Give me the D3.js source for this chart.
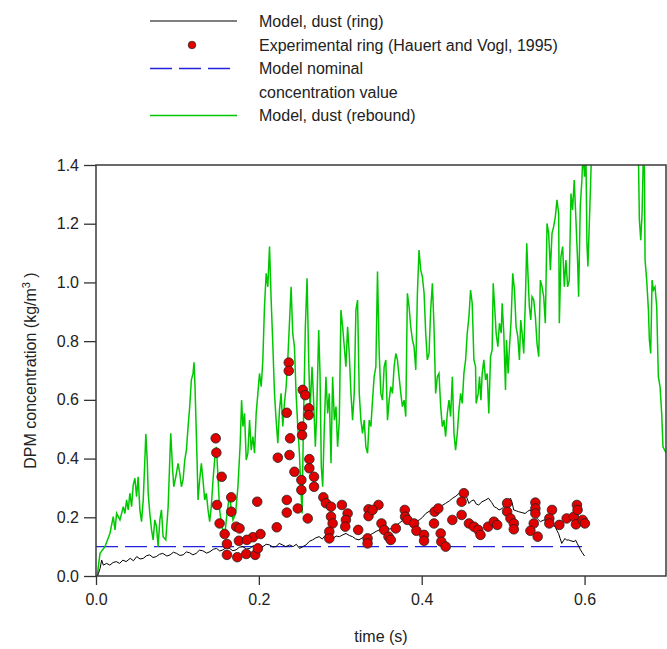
<!DOCTYPE html>
<html>
<head>
<meta charset="utf-8">
<script src="https://cdn.jsdelivr.net/npm/d3@7"></script>
<style>
  body { margin: 0; background: #fff; }
  svg { display: block; font-family: "Liberation Sans", Arial, sans-serif; }
</style>
</head>
<body>
<div id="chart"></div>
<script>
(function () {
    'use strict';

    // model, dust (rebound) - [time, concentration]
    var reboundData = [
        [0.0016,0.003],[0.0049,0.077],[0.011,0.1],[0.0171,0.145],[0.0212,0.202],[0.0233,0.157],[0.0253,0.213],
        [0.0294,0.191],[0.0335,0.236],[0.0355,0.213],[0.0376,0.259],[0.0396,0.225],[0.0416,0.282],[0.0437,0.236],
        [0.0457,0.31],[0.0478,0.333],[0.0498,0.27],[0.0518,0.338],[0.0539,0.225],[0.0559,0.185],[0.058,0.259],
        [0.06,0.395],[0.0612,0.484],[0.0629,0.395],[0.0641,0.282],[0.0661,0.213],[0.0682,0.157],[0.0702,0.123],
        [0.0722,0.191],[0.0743,0.168],[0.0763,0.1],[0.0784,0.191],[0.0804,0.225],[0.0824,0.134],[0.0857,0.123],
        [0.0886,0.236],[0.0906,0.395],[0.0918,0.486],[0.0939,0.372],[0.0955,0.304],[0.098,0.338],[0.1008,0.384],
        [0.1029,0.35],[0.1049,0.304],[0.1069,0.327],[0.109,0.395],[0.111,0.429],[0.1131,0.509],[0.1151,0.577],
        [0.1171,0.668],[0.1192,0.69],[0.1204,0.728],[0.1216,0.645],[0.1224,0.565],[0.1241,0.395],[0.1253,0.259],
        [0.1273,0.327],[0.1294,0.384],[0.1314,0.327],[0.1335,0.259],[0.1355,0.282],[0.1376,0.225],[0.1396,0.185],
        [0.1416,0.236],[0.1437,0.327],[0.1457,0.395],[0.1478,0.44],[0.1498,0.338],[0.1518,0.225],[0.1539,0.179],
        [0.1559,0.157],[0.158,0.134],[0.16,0.191],[0.1641,0.282],[0.1661,0.225],[0.1682,0.191],[0.1714,0.213],
        [0.1743,0.304],[0.1771,0.452],[0.1788,0.599],[0.1804,0.509],[0.1824,0.554],[0.1845,0.395],[0.1865,0.418],
        [0.1886,0.531],[0.1906,0.429],[0.1927,0.475],[0.1947,0.418],[0.1967,0.554],[0.1988,0.622],[0.2008,0.69],
        [0.2029,0.645],[0.2049,0.736],[0.2069,0.917],[0.209,1.031],[0.211,0.985],[0.2131,1.122],[0.2151,0.94],
        [0.2171,0.792],[0.2192,0.622],[0.2212,0.531],[0.2233,0.452],[0.2253,0.565],[0.2273,0.622],[0.2294,0.509],
        [0.2314,0.588],[0.2335,0.645],[0.2355,0.736],
        [0.2396,0.985],[0.2416,0.827],[0.2437,0.781],[0.2457,0.622],[0.2478,0.509],[0.2498,0.418],[0.2518,0.282],
        [0.2531,0.213],[0.2547,0.509],[0.2571,0.849],[0.2592,1.014],[0.2612,0.736],[0.2629,0.565],[0.2653,0.713],
        [0.2669,0.622],[0.2694,0.44],[0.271,0.554],[0.2735,0.838],[0.2751,0.69],[0.2767,0.372],[0.2784,0.304],
        [0.2804,0.509],[0.2824,0.679],[0.2845,0.554],[0.2865,0.622],[0.2886,0.384],[0.2906,0.679],[0.2927,0.531],
        [0.2947,0.577],[0.2967,0.44],[0.2988,0.531],[0.3008,0.906],[0.3029,0.849],[0.3049,0.781],[0.3069,0.713],
        [0.309,0.849],[0.311,0.758],[0.3131,0.622],[0.3151,0.531],[0.3171,0.622],[0.3192,0.906],[0.3212,0.94],
        [0.3233,0.622],[0.3253,0.531],[0.3273,0.486],[0.3294,0.531],[0.3314,0.44],[0.3335,0.418],[0.3355,0.531],
        [0.3376,0.509],[0.3396,0.599],[0.3416,0.679],[0.3437,0.713],[0.3457,1.037],[0.3478,0.758],[0.3498,0.622],
        [0.3518,0.599],[0.3539,0.713],[0.3559,0.736],[0.358,0.531],[0.36,0.599],[0.362,0.645],[0.3641,0.622],
        [0.3661,0.713],[0.3682,0.758],[0.3702,0.736],[0.3722,0.679],[0.3743,0.622],[0.3763,0.577],[0.3784,0.599],
        [0.3804,0.543],[0.3824,0.963],[0.3845,0.917],[0.3865,0.849],[0.3886,0.804],[0.3906,0.781],[0.3927,0.702],
        [0.3947,0.963],[0.3967,1.11],[0.3988,1.042],[0.4008,1.02],[0.4029,0.963],[0.4049,0.827],[0.4069,0.736],
        [0.409,0.758],[0.411,0.906],[0.4131,0.997],[0.4151,0.849],[0.4171,0.622],[0.4192,0.679],[0.4212,0.69],
        [0.4233,0.577],[0.4253,0.509],[0.4273,0.531],[0.4294,0.475],[0.4314,0.554],[0.4335,0.599],[0.4355,0.543],
        [0.4376,0.679],[0.4396,0.486],[0.4416,0.429],[0.4437,0.486],[0.4457,0.565],[0.4478,0.622],[0.4498,0.588],
        [0.4518,0.69],[0.4539,0.736],[0.4559,0.827],[0.458,0.883],[0.46,0.974],[0.462,0.929],[0.4641,0.736],
        [0.4661,0.713],
        [0.4669,0.588],[0.4694,0.622],[0.471,0.679],[0.4727,0.599],[0.4743,0.69],[0.4763,0.736],[0.4784,0.668],
        [0.4804,0.69],[0.4824,0.554],[0.4845,0.747],[0.4865,0.77],[0.4878,0.997],[0.4898,0.906],[0.4914,0.827],
        [0.4935,0.781],[0.4955,0.861],[0.4976,0.827],[0.4988,0.929],[0.5008,0.827],[0.5029,0.634],[0.5041,0.804],
        [0.5061,0.69],[0.5078,0.781],[0.5098,0.872],[0.5118,1.031],[0.5139,0.974],[0.5159,0.849],[0.518,0.815],
        [0.52,0.736],[0.5216,0.872],[0.5233,0.827],[0.5253,0.758],[0.5273,0.94],[0.529,1.133],[0.5306,1.02],
        [0.5322,0.917],[0.5339,0.872],[0.5355,0.951],[0.5376,0.94],[0.5396,0.883],[0.5416,0.792],[0.5437,0.747],
        [0.5457,1.008],[0.5478,0.985],[0.5498,0.951],[0.5518,0.861],[0.5539,1.201],[0.5559,1.167],[0.558,1.042],
        [0.56,1.167],[0.562,1.19],[0.5641,1.224],[0.5661,1.281],[0.5682,1.235],[0.569,0.861],[0.571,1.088],
        [0.5731,1.122],[0.5751,0.985],[0.5771,1.076],[0.5792,0.985],[0.5812,1.008],[0.5833,1.303],[0.5853,1.247],
        [0.5873,1.349],[0.5894,1.213],[0.5914,1.076],[0.5927,0.951],[0.5947,1.258],[0.5967,1.349],[0.598,1.44],
        [0.6,1.36],[0.6016,1.45],[0.6029,1.133],[0.6041,1.054],[0.6057,1.19],[0.6073,1.326],[0.609,1.49],
        [0.625,1.6],[0.64,1.7],[0.655,1.6],
        [0.6661,1.44],[0.6673,1.213],[0.669,1.144],[0.6706,1.235],[0.6722,1.44],[0.6735,1.383],[0.6743,1.076],
        [0.6763,1.008],[0.6784,0.906],[0.6796,0.804],[0.6812,0.758],[0.6829,1.008],[0.6845,0.974],[0.6865,0.985],
        [0.6886,0.917],[0.6906,0.679],[0.6927,0.645],[0.6947,0.554],[0.6963,0.44],[0.7,0.42]
    ];

    // model, dust (ring)
    var ringData = [
        [0.002,0.0],[0.003,0.009],[0.005,0.026],[0.007,0.054],[0.009,0.037],[0.013,0.043],[0.017,0.037],
        [0.021,0.046],[0.025,0.049],[0.029,0.043],[0.033,0.054],[0.037,0.049],[0.042,0.06],[0.046,0.052],
        [0.05,0.066],[0.054,0.058],[0.058,0.06],[0.062,0.069],[0.066,0.072],[0.07,0.063],[0.074,0.066],
        [0.078,0.074],[0.082,0.077],[0.087,0.068],[0.091,0.072],[0.095,0.081],[0.099,0.077],[0.103,0.07],
        [0.107,0.072],[0.111,0.082],[0.115,0.079],[0.119,0.072],[0.123,0.077],[0.127,0.088],[0.131,0.086],
        [0.136,0.078],[0.14,0.083],[0.144,0.091],[0.148,0.094],[0.152,0.085],[0.156,0.089],[0.16,0.097],
        [0.164,0.094],[0.168,0.086],[0.172,0.089],[0.176,0.098],[0.18,0.1],[0.185,0.092],[0.189,0.094],
        [0.193,0.103],[0.197,0.1],[0.201,0.094],[0.205,0.1],[0.209,0.108],[0.213,0.106],[0.217,0.099],
        [0.221,0.1],[0.225,0.111],[0.229,0.106],[0.233,0.1],[0.238,0.106],[0.242,0.1],[0.246,0.108],
        [0.25,0.094],[0.254,0.1],[0.258,0.106],[0.262,0.118],[0.266,0.123],[0.27,0.13],[0.274,0.134],
        [0.278,0.126],[0.282,0.14],[0.287,0.132],[0.291,0.128],[0.295,0.136],[0.299,0.134],[0.303,0.14],
        [0.307,0.145],[0.311,0.138],[0.315,0.134],[0.319,0.126],[0.323,0.123],[0.327,0.13],[0.331,0.128],
        [0.336,0.14],[0.34,0.145],[0.344,0.152],[0.348,0.157],[0.352,0.162],[0.356,0.168],[0.36,0.16],
        [0.364,0.162],[0.368,0.172],[0.372,0.179],[0.376,0.188],[0.38,0.196],[0.385,0.186],[0.389,0.179],
        [0.393,0.186],[0.397,0.191],[0.401,0.2],[0.405,0.213],[0.409,0.22],[0.413,0.225],[0.417,0.23],
        [0.421,0.236],[0.425,0.24],[0.429,0.247],[0.434,0.256],[0.438,0.265],[0.442,0.272],[0.446,0.282],
        [0.449,0.278],[0.452,0.287],[0.455,0.27],[0.458,0.247],[0.461,0.256],[0.464,0.259],[0.467,0.245],
        [0.47,0.242],[0.474,0.253],[0.478,0.258],[0.482,0.265],[0.486,0.25],[0.489,0.236],[0.492,0.232],
        [0.495,0.225],[0.499,0.23],[0.503,0.247],[0.506,0.256],[0.509,0.265],[0.511,0.25],[0.513,0.225],
        [0.516,0.222],[0.519,0.219],[0.523,0.216],[0.527,0.213],[0.53,0.22],[0.533,0.225],[0.537,0.21],
        [0.54,0.202],[0.543,0.192],[0.546,0.185],[0.549,0.19],[0.552,0.191],[0.555,0.182],[0.558,0.179],
        [0.561,0.172],[0.564,0.168],[0.566,0.155],[0.568,0.145],[0.57,0.128],[0.572,0.111],[0.574,0.12],
        [0.576,0.128],[0.578,0.122],[0.58,0.123],[0.583,0.12],[0.587,0.117],[0.589,0.122],[0.591,0.111],
        [0.593,0.1],[0.595,0.089],[0.597,0.08],[0.6,0.068]
    ];

    // experimental ring (Hauert and Vogl, 1995)
    var experimentData = [
        [0.147,0.469],[0.1478,0.42],[0.1543,0.338],[0.1661,0.268],[0.1486,0.242],[0.1661,0.219],[0.1518,0.179],
        [0.158,0.143],[0.1722,0.168],[0.1763,0.162],[0.198,0.253],[0.1755,0.12],[0.1927,0.132],[0.202,0.143],
        [0.222,0.166],[0.2233,0.403],[0.1608,0.109],[0.1608,0.072],[0.1735,0.064],[0.1853,0.123],[0.1845,0.075],
        [0.1955,0.072],[0.1988,0.094],
        [0.2367,0.727],[0.2367,0.699],[0.2343,0.556],[0.2384,0.469],[0.2376,0.412],[0.2343,0.259],[0.2343,0.216],
        [0.2437,0.355],[0.2478,0.23],[0.2539,0.634],[0.257,0.616],[0.2531,0.509],[0.2531,0.48],[0.2612,0.571],
        [0.2612,0.548],[0.262,0.398],[0.262,0.367],[0.2522,0.327],[0.2522,0.293],[0.2678,0.338],[0.2678,0.304],
        [0.26,0.196],[0.2792,0.268],[0.2824,0.248],[0.2886,0.236],[0.2886,0.202],[0.2906,0.179],[0.2865,0.151],
        [0.2865,0.128],[0.302,0.242],[0.309,0.213],[0.3069,0.191],[0.3061,0.168],[0.322,0.157],[0.3347,0.227],
        [0.3347,0.204],[0.3469,0.242],[0.3396,0.225],[0.3335,0.128],[0.3335,0.111],[0.3506,0.179],[0.3539,0.157],
        [0.3592,0.134],[0.362,0.123],[0.3682,0.162],[0.3792,0.225],[0.3796,0.202],[0.3824,0.191],[0.3906,0.179],
        [0.3935,0.154],[0.4029,0.14],[0.4029,0.12],[0.4159,0.219],[0.4151,0.179],[0.4204,0.23],[0.4233,0.145],
        [0.4241,0.117],[0.4294,0.1],[0.4376,0.191],[0.449,0.208],[0.4518,0.282],[0.449,0.253],[0.458,0.179],
        [0.4641,0.168],
        [0.4694,0.157],[0.4722,0.14],[0.4816,0.168],[0.4886,0.185],[0.4927,0.174],[0.5049,0.248],[0.5049,0.219],
        [0.509,0.196],[0.5131,0.179],[0.5131,0.159],[0.5396,0.25],[0.5396,0.23],[0.5396,0.213],[0.5376,0.179],
        [0.5335,0.154],[0.5424,0.134],[0.56,0.225],[0.5567,0.196],[0.5567,0.179],[0.569,0.174],[0.578,0.196],
        [0.5869,0.202],[0.5906,0.242],[0.5914,0.225],[0.5894,0.176],[0.5976,0.191],[0.6004,0.179]
    ];

    // model nominal concentration value
    var nominalTime = [0, 0.6];
    var nominalValue = [0.1, 0.1];

    var xTicks = [0, 0.2, 0.4, 0.6];
    var yTicks = [0, 0.2, 0.4, 0.6, 0.8, 1.0, 1.2, 1.4];

    var legendLabels = [
        ['Model, dust (ring)'],
        ['Experimental ring (Hauert and Vogl, 1995)'],
        ['Model nominal', 'concentration value'],
        ['Model, dust (rebound)']
    ];

    var WIDTH = 667;
    var HEIGHT = 649;
    var margin = {top: 165, right: 1, bottom: 73, left: 96};
    var plotW = WIDTH - margin.left - margin.right;
    var plotH = HEIGHT - margin.top - margin.bottom;

    var GREEN = '#00c800';
    var BLUE = '#2222dd';
    var RED = '#e00000';

    var svg = d3.select('#chart')
        .append('svg')
        .attr('width', WIDTH)
        .attr('height', HEIGHT);

    var x = d3.scaleLinear().domain([0, 0.7]).range([0, plotW]);
    var y = d3.scaleLinear().domain([0, 1.4]).range([plotH, 0]);

    var g = svg.append('g')
        .attr('transform', 'translate(' + margin.left + ',' + margin.top + ')');

    g.append('clipPath')
        .attr('id', 'plot-clip')
        .append('rect')
        .attr('width', plotW)
        .attr('height', plotH);

    drawAxes();
    drawSeries();
    drawFrame();
    drawLegend();
    drawTitles();

    function drawAxes() {
        var xAxis = d3.axisBottom(x)
            .tickValues(xTicks)
            .tickFormat(d3.format('.1f'))
            .tickSize(9)
            .tickSizeOuter(0)
            .tickPadding(9);
        var yAxis = d3.axisLeft(y)
            .tickValues(yTicks)
            .tickFormat(d3.format('.1f'))
            .tickSize(12)
            .tickSizeOuter(0)
            .tickPadding(5);

        var gx = g.append('g')
            .attr('transform', 'translate(0,' + plotH + ')')
            .call(xAxis);
        var gy = g.append('g').call(yAxis);

        [gx, gy].forEach(function (a) {
            a.select('.domain').remove();
            a.selectAll('line').attr('stroke', '#333').attr('stroke-width', 1.3);
            a.selectAll('text')
                .attr('font-size', 16)
                .attr('fill', '#222')
                .attr('font-family', '"Liberation Sans", Arial, sans-serif');
        });
    }

    function drawSeries() {
        var plot = g.append('g').attr('clip-path', 'url(#plot-clip)');

        var line = d3.line()
            .x(function (d) { return x(d[0]); })
            .y(function (d) { return y(d[1]); });

        plot.append('path')
            .datum(d3.zip(nominalTime, nominalValue))
            .attr('d', line)
            .attr('fill', 'none')
            .attr('stroke', BLUE)
            .attr('stroke-width', 1.4)
            .attr('stroke-dasharray', '22,7');

        plot.append('path')
            .datum(reboundData)
            .attr('d', line)
            .attr('fill', 'none')
            .attr('stroke', GREEN)
            .attr('stroke-width', 1.5);

        plot.append('path')
            .datum(ringData)
            .attr('d', line)
            .attr('fill', 'none')
            .attr('stroke', '#000')
            .attr('stroke-width', 1);

        plot.selectAll('circle.exp')
            .data(experimentData)
            .enter()
            .append('circle')
            .attr('class', 'exp')
            .attr('cx', function (d) { return x(d[0]); })
            .attr('cy', function (d) { return y(d[1]); })
            .attr('r', 4.8)
            .attr('fill', RED)
            .attr('stroke', '#222')
            .attr('stroke-width', 0.8);
    }

    function drawFrame() {
        g.append('rect')
            .attr('width', plotW)
            .attr('height', plotH)
            .attr('fill', 'none')
            .attr('stroke', '#3a3a3a')
            .attr('stroke-width', 1.5);
    }

    function drawLegend() {
        var lg = svg.append('g');
        var rows = [21, 45, 68.5, 92, 115.5];
        var x0 = 150, x1 = 237, tx = 259;

        lg.append('line')
            .attr('x1', x0).attr('x2', x1).attr('y1', rows[0]).attr('y2', rows[0])
            .attr('stroke', '#000').attr('stroke-width', 1.2);
        lg.append('circle')
            .attr('cx', 192).attr('cy', rows[1]).attr('r', 3.8)
            .attr('fill', RED).attr('stroke', '#222').attr('stroke-width', 0.7);
        lg.append('line')
            .attr('x1', x0).attr('x2', 230).attr('y1', rows[2]).attr('y2', rows[2])
            .attr('stroke', BLUE).attr('stroke-width', 1.4)
            .attr('stroke-dasharray', '22,7');
        lg.append('line')
            .attr('x1', x0).attr('x2', x1).attr('y1', rows[4]).attr('y2', rows[4])
            .attr('stroke', GREEN).attr('stroke-width', 1.3);

        var textRows = [rows[0], rows[1], rows[2], rows[4]];
        legendLabels.forEach(function (lines, i) {
            lines.forEach(function (txt, j) {
                lg.append('text')
                    .attr('x', tx)
                    .attr('y', textRows[i] + j * 23.5 + 5.5)
                    .attr('font-size', 16)
                    .attr('fill', '#222')
                    .text(txt);
            });
        });
    }

    function drawTitles() {
        svg.append('text')
            .attr('x', margin.left + plotW / 2)
            .attr('y', 642)
            .attr('text-anchor', 'middle')
            .attr('font-size', 16)
            .attr('fill', '#222')
            .text('time (s)');

        var yl = svg.append('text')
            .attr('transform', 'translate(36,' + (margin.top + plotH / 2) + ') rotate(-90)')
            .attr('text-anchor', 'middle')
            .attr('font-size', 16)
            .attr('fill', '#222');
        yl.append('tspan').text('DPM concentration (kg/m');
        yl.append('tspan').attr('baseline-shift', 'super').attr('font-size', 11).text('3');
        yl.append('tspan').text(' )');
    }
})();
</script>
</body>
</html>
